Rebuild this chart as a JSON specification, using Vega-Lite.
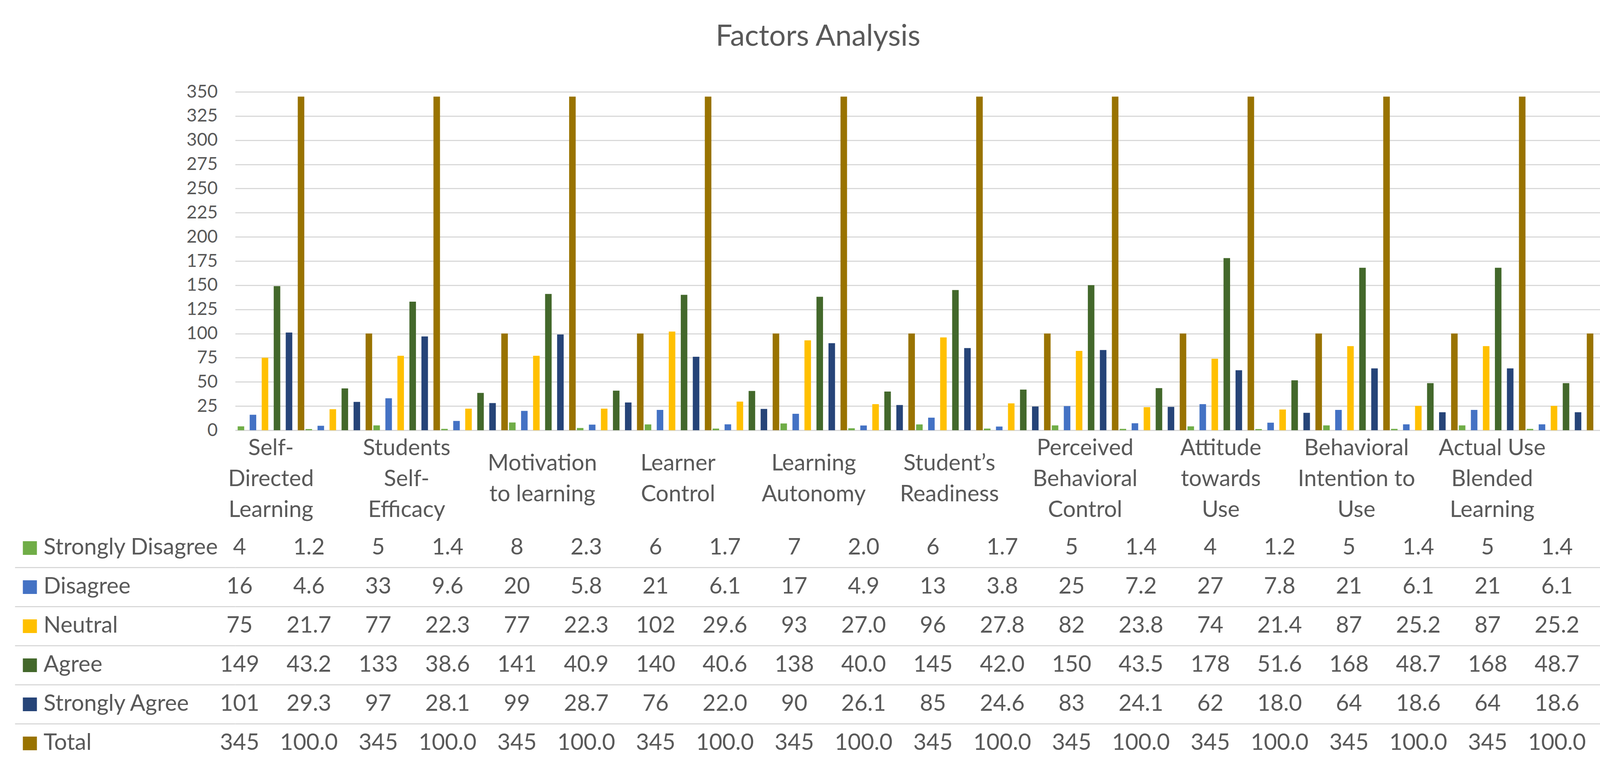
{
  "$schema": "https://vega.github.io/schema/vega-lite/v6.json",
  "background": "white",
  "padding": {"left": 36, "top": 57, "right": 20, "bottom": 10},
  "title": {"text": "Factors Analysis", "font": "Lato", "fontSize": 75, "fontWeight": "normal", "color": "#595959", "anchor": "middle", "offset": 79},
  "config": {"view": {"stroke": null}, "font": "Lato"},
  "spacing": 18,
  "datasets": {
    "t": [
      {"col": "Self-|Directed|Learning", "kind": "n", "series": "Strongly Disagree", "value": 4},
      {"col": "Self-|Directed|Learning", "kind": "n", "series": "Disagree", "value": 16},
      {"col": "Self-|Directed|Learning", "kind": "n", "series": "Neutral", "value": 75},
      {"col": "Self-|Directed|Learning", "kind": "n", "series": "Agree", "value": 149},
      {"col": "Self-|Directed|Learning", "kind": "n", "series": "Strongly Agree", "value": 101},
      {"col": "Self-|Directed|Learning", "kind": "n", "series": "Total", "value": 345},
      {"col": "Self-|Directed|Learning|%", "kind": "pct", "series": "Strongly Disagree", "value": 1.2},
      {"col": "Self-|Directed|Learning|%", "kind": "pct", "series": "Disagree", "value": 4.6},
      {"col": "Self-|Directed|Learning|%", "kind": "pct", "series": "Neutral", "value": 21.7},
      {"col": "Self-|Directed|Learning|%", "kind": "pct", "series": "Agree", "value": 43.2},
      {"col": "Self-|Directed|Learning|%", "kind": "pct", "series": "Strongly Agree", "value": 29.3},
      {"col": "Self-|Directed|Learning|%", "kind": "pct", "series": "Total", "value": 100.0},
      {"col": "Students|Self-|Efficacy", "kind": "n", "series": "Strongly Disagree", "value": 5},
      {"col": "Students|Self-|Efficacy", "kind": "n", "series": "Disagree", "value": 33},
      {"col": "Students|Self-|Efficacy", "kind": "n", "series": "Neutral", "value": 77},
      {"col": "Students|Self-|Efficacy", "kind": "n", "series": "Agree", "value": 133},
      {"col": "Students|Self-|Efficacy", "kind": "n", "series": "Strongly Agree", "value": 97},
      {"col": "Students|Self-|Efficacy", "kind": "n", "series": "Total", "value": 345},
      {"col": "Students|Self-|Efficacy|%", "kind": "pct", "series": "Strongly Disagree", "value": 1.4},
      {"col": "Students|Self-|Efficacy|%", "kind": "pct", "series": "Disagree", "value": 9.6},
      {"col": "Students|Self-|Efficacy|%", "kind": "pct", "series": "Neutral", "value": 22.3},
      {"col": "Students|Self-|Efficacy|%", "kind": "pct", "series": "Agree", "value": 38.6},
      {"col": "Students|Self-|Efficacy|%", "kind": "pct", "series": "Strongly Agree", "value": 28.1},
      {"col": "Students|Self-|Efficacy|%", "kind": "pct", "series": "Total", "value": 100.0},
      {"col": "Motivation|to learning", "kind": "n", "series": "Strongly Disagree", "value": 8},
      {"col": "Motivation|to learning", "kind": "n", "series": "Disagree", "value": 20},
      {"col": "Motivation|to learning", "kind": "n", "series": "Neutral", "value": 77},
      {"col": "Motivation|to learning", "kind": "n", "series": "Agree", "value": 141},
      {"col": "Motivation|to learning", "kind": "n", "series": "Strongly Agree", "value": 99},
      {"col": "Motivation|to learning", "kind": "n", "series": "Total", "value": 345},
      {"col": "Motivation|to learning|%", "kind": "pct", "series": "Strongly Disagree", "value": 2.3},
      {"col": "Motivation|to learning|%", "kind": "pct", "series": "Disagree", "value": 5.8},
      {"col": "Motivation|to learning|%", "kind": "pct", "series": "Neutral", "value": 22.3},
      {"col": "Motivation|to learning|%", "kind": "pct", "series": "Agree", "value": 40.9},
      {"col": "Motivation|to learning|%", "kind": "pct", "series": "Strongly Agree", "value": 28.7},
      {"col": "Motivation|to learning|%", "kind": "pct", "series": "Total", "value": 100.0},
      {"col": "Learner|Control", "kind": "n", "series": "Strongly Disagree", "value": 6},
      {"col": "Learner|Control", "kind": "n", "series": "Disagree", "value": 21},
      {"col": "Learner|Control", "kind": "n", "series": "Neutral", "value": 102},
      {"col": "Learner|Control", "kind": "n", "series": "Agree", "value": 140},
      {"col": "Learner|Control", "kind": "n", "series": "Strongly Agree", "value": 76},
      {"col": "Learner|Control", "kind": "n", "series": "Total", "value": 345},
      {"col": "Learner|Control|%", "kind": "pct", "series": "Strongly Disagree", "value": 1.7},
      {"col": "Learner|Control|%", "kind": "pct", "series": "Disagree", "value": 6.1},
      {"col": "Learner|Control|%", "kind": "pct", "series": "Neutral", "value": 29.6},
      {"col": "Learner|Control|%", "kind": "pct", "series": "Agree", "value": 40.6},
      {"col": "Learner|Control|%", "kind": "pct", "series": "Strongly Agree", "value": 22.0},
      {"col": "Learner|Control|%", "kind": "pct", "series": "Total", "value": 100.0},
      {"col": "Learning|Autonomy", "kind": "n", "series": "Strongly Disagree", "value": 7},
      {"col": "Learning|Autonomy", "kind": "n", "series": "Disagree", "value": 17},
      {"col": "Learning|Autonomy", "kind": "n", "series": "Neutral", "value": 93},
      {"col": "Learning|Autonomy", "kind": "n", "series": "Agree", "value": 138},
      {"col": "Learning|Autonomy", "kind": "n", "series": "Strongly Agree", "value": 90},
      {"col": "Learning|Autonomy", "kind": "n", "series": "Total", "value": 345},
      {"col": "Learning|Autonomy|%", "kind": "pct", "series": "Strongly Disagree", "value": 2.0},
      {"col": "Learning|Autonomy|%", "kind": "pct", "series": "Disagree", "value": 4.9},
      {"col": "Learning|Autonomy|%", "kind": "pct", "series": "Neutral", "value": 27.0},
      {"col": "Learning|Autonomy|%", "kind": "pct", "series": "Agree", "value": 40.0},
      {"col": "Learning|Autonomy|%", "kind": "pct", "series": "Strongly Agree", "value": 26.1},
      {"col": "Learning|Autonomy|%", "kind": "pct", "series": "Total", "value": 100.0},
      {"col": "Student’s|Readiness", "kind": "n", "series": "Strongly Disagree", "value": 6},
      {"col": "Student’s|Readiness", "kind": "n", "series": "Disagree", "value": 13},
      {"col": "Student’s|Readiness", "kind": "n", "series": "Neutral", "value": 96},
      {"col": "Student’s|Readiness", "kind": "n", "series": "Agree", "value": 145},
      {"col": "Student’s|Readiness", "kind": "n", "series": "Strongly Agree", "value": 85},
      {"col": "Student’s|Readiness", "kind": "n", "series": "Total", "value": 345},
      {"col": "Student’s|Readiness|%", "kind": "pct", "series": "Strongly Disagree", "value": 1.7},
      {"col": "Student’s|Readiness|%", "kind": "pct", "series": "Disagree", "value": 3.8},
      {"col": "Student’s|Readiness|%", "kind": "pct", "series": "Neutral", "value": 27.8},
      {"col": "Student’s|Readiness|%", "kind": "pct", "series": "Agree", "value": 42.0},
      {"col": "Student’s|Readiness|%", "kind": "pct", "series": "Strongly Agree", "value": 24.6},
      {"col": "Student’s|Readiness|%", "kind": "pct", "series": "Total", "value": 100.0},
      {"col": "Perceived|Behavioral|Control", "kind": "n", "series": "Strongly Disagree", "value": 5},
      {"col": "Perceived|Behavioral|Control", "kind": "n", "series": "Disagree", "value": 25},
      {"col": "Perceived|Behavioral|Control", "kind": "n", "series": "Neutral", "value": 82},
      {"col": "Perceived|Behavioral|Control", "kind": "n", "series": "Agree", "value": 150},
      {"col": "Perceived|Behavioral|Control", "kind": "n", "series": "Strongly Agree", "value": 83},
      {"col": "Perceived|Behavioral|Control", "kind": "n", "series": "Total", "value": 345},
      {"col": "Perceived|Behavioral|Control|%", "kind": "pct", "series": "Strongly Disagree", "value": 1.4},
      {"col": "Perceived|Behavioral|Control|%", "kind": "pct", "series": "Disagree", "value": 7.2},
      {"col": "Perceived|Behavioral|Control|%", "kind": "pct", "series": "Neutral", "value": 23.8},
      {"col": "Perceived|Behavioral|Control|%", "kind": "pct", "series": "Agree", "value": 43.5},
      {"col": "Perceived|Behavioral|Control|%", "kind": "pct", "series": "Strongly Agree", "value": 24.1},
      {"col": "Perceived|Behavioral|Control|%", "kind": "pct", "series": "Total", "value": 100.0},
      {"col": "Attitude|towards|Use", "kind": "n", "series": "Strongly Disagree", "value": 4},
      {"col": "Attitude|towards|Use", "kind": "n", "series": "Disagree", "value": 27},
      {"col": "Attitude|towards|Use", "kind": "n", "series": "Neutral", "value": 74},
      {"col": "Attitude|towards|Use", "kind": "n", "series": "Agree", "value": 178},
      {"col": "Attitude|towards|Use", "kind": "n", "series": "Strongly Agree", "value": 62},
      {"col": "Attitude|towards|Use", "kind": "n", "series": "Total", "value": 345},
      {"col": "Attitude|towards|Use|%", "kind": "pct", "series": "Strongly Disagree", "value": 1.2},
      {"col": "Attitude|towards|Use|%", "kind": "pct", "series": "Disagree", "value": 7.8},
      {"col": "Attitude|towards|Use|%", "kind": "pct", "series": "Neutral", "value": 21.4},
      {"col": "Attitude|towards|Use|%", "kind": "pct", "series": "Agree", "value": 51.6},
      {"col": "Attitude|towards|Use|%", "kind": "pct", "series": "Strongly Agree", "value": 18.0},
      {"col": "Attitude|towards|Use|%", "kind": "pct", "series": "Total", "value": 100.0},
      {"col": "Behavioral|Intention to|Use", "kind": "n", "series": "Strongly Disagree", "value": 5},
      {"col": "Behavioral|Intention to|Use", "kind": "n", "series": "Disagree", "value": 21},
      {"col": "Behavioral|Intention to|Use", "kind": "n", "series": "Neutral", "value": 87},
      {"col": "Behavioral|Intention to|Use", "kind": "n", "series": "Agree", "value": 168},
      {"col": "Behavioral|Intention to|Use", "kind": "n", "series": "Strongly Agree", "value": 64},
      {"col": "Behavioral|Intention to|Use", "kind": "n", "series": "Total", "value": 345},
      {"col": "Behavioral|Intention to|Use|%", "kind": "pct", "series": "Strongly Disagree", "value": 1.4},
      {"col": "Behavioral|Intention to|Use|%", "kind": "pct", "series": "Disagree", "value": 6.1},
      {"col": "Behavioral|Intention to|Use|%", "kind": "pct", "series": "Neutral", "value": 25.2},
      {"col": "Behavioral|Intention to|Use|%", "kind": "pct", "series": "Agree", "value": 48.7},
      {"col": "Behavioral|Intention to|Use|%", "kind": "pct", "series": "Strongly Agree", "value": 18.6},
      {"col": "Behavioral|Intention to|Use|%", "kind": "pct", "series": "Total", "value": 100.0},
      {"col": "Actual Use|Blended|Learning", "kind": "n", "series": "Strongly Disagree", "value": 5},
      {"col": "Actual Use|Blended|Learning", "kind": "n", "series": "Disagree", "value": 21},
      {"col": "Actual Use|Blended|Learning", "kind": "n", "series": "Neutral", "value": 87},
      {"col": "Actual Use|Blended|Learning", "kind": "n", "series": "Agree", "value": 168},
      {"col": "Actual Use|Blended|Learning", "kind": "n", "series": "Strongly Agree", "value": 64},
      {"col": "Actual Use|Blended|Learning", "kind": "n", "series": "Total", "value": 345},
      {"col": "Actual Use|Blended|Learning|%", "kind": "pct", "series": "Strongly Disagree", "value": 1.4},
      {"col": "Actual Use|Blended|Learning|%", "kind": "pct", "series": "Disagree", "value": 6.1},
      {"col": "Actual Use|Blended|Learning|%", "kind": "pct", "series": "Neutral", "value": 25.2},
      {"col": "Actual Use|Blended|Learning|%", "kind": "pct", "series": "Agree", "value": 48.7},
      {"col": "Actual Use|Blended|Learning|%", "kind": "pct", "series": "Strongly Agree", "value": 18.6},
      {"col": "Actual Use|Blended|Learning|%", "kind": "pct", "series": "Total", "value": 100.0}
    ]
  },
  "vconcat": [
    {
      "width": 3550,
      "height": 866,
      "data": {"name": "t"},
      "mark": {"type": "bar"},
      "encoding": {
        "x": {
          "field": "col", "type": "nominal",
          "scale": {
            "domain": ["Self-|Directed|Learning", "Self-|Directed|Learning|%", "Students|Self-|Efficacy", "Students|Self-|Efficacy|%", "Motivation|to learning", "Motivation|to learning|%", "Learner|Control", "Learner|Control|%", "Learning|Autonomy", "Learning|Autonomy|%", "Student’s|Readiness", "Student’s|Readiness|%", "Perceived|Behavioral|Control", "Perceived|Behavioral|Control|%", "Attitude|towards|Use", "Attitude|towards|Use|%", "Behavioral|Intention to|Use", "Behavioral|Intention to|Use|%", "Actual Use|Blended|Learning", "Actual Use|Blended|Learning|%"],
            "paddingInner": 0, "paddingOuter": 0.22, "align": 0.064
          },
          "axis": {
            "title": null, "domain": false, "ticks": false, "tickSize": 0, "grid": false,
            "labelAngle": 0, "labelAlign": "center",
            "labelBaseline": {"condition": {"test": "length(split(datum.value, '|')) >= 3", "value": "middle"}, "value": "line-top"},
            "labelPadding": 46, "labelLineHeight": 79, "labelFontSize": 58, "labelColor": "#595959",
            "labelLimit": 600, "labelOverlap": false, "labelFlush": false,
            "labelExpr": "indexof(datum.value, '|%') >= 0 ? '' : split(datum.value, '|')"
          }
        },
        "xOffset": {
          "field": "series", "type": "nominal",
          "scale": {"domain": ["Strongly Disagree", "Disagree", "Neutral", "Agree", "Strongly Agree", "Total"], "paddingInner": 0.455, "paddingOuter": 0.05}
        },
        "y": {
          "field": "value", "type": "quantitative",
          "scale": {"domain": [0, 350], "nice": false},
          "axis": {
            "title": null, "domain": false, "ticks": false, "values": [0, 25, 50, 75, 100, 125, 150, 175, 200, 225, 250, 275, 300, 325, 350],
            "grid": true, "gridColor": "#D9D9D9", "gridWidth": 3,
            "labelFontSize": 46, "labelColor": "#595959", "labelPadding": 45
          }
        },
        "color": {
          "field": "series", "type": "nominal",
          "scale": {"domain": ["Strongly Disagree", "Disagree", "Neutral", "Agree", "Strongly Agree", "Total"], "range": ["#70AD47", "#4472C4", "#FFC000", "#43682B", "#264478", "#997300"]},
          "legend": null
        }
      }
    },
    {
      "width": 3550,
      "height": 600,
      "data": {"name": "t"},
      "resolve": {"axis": {"y": "independent"}},
      "layer": [
        {
          "transform": [{"filter": "datum.kind === 'n'"}],
          "mark": {"type": "text", "fontSize": 58, "color": "#595959", "align": "center", "baseline": "middle"},
          "encoding": {
            "x": {
              "field": "col", "type": "nominal",
              "scale": {
                "domain": ["Self-|Directed|Learning", "Self-|Directed|Learning|%", "Students|Self-|Efficacy", "Students|Self-|Efficacy|%", "Motivation|to learning", "Motivation|to learning|%", "Learner|Control", "Learner|Control|%", "Learning|Autonomy", "Learning|Autonomy|%", "Student’s|Readiness", "Student’s|Readiness|%", "Perceived|Behavioral|Control", "Perceived|Behavioral|Control|%", "Attitude|towards|Use", "Attitude|towards|Use|%", "Behavioral|Intention to|Use", "Behavioral|Intention to|Use|%", "Actual Use|Blended|Learning", "Actual Use|Blended|Learning|%"],
                "paddingInner": 0, "paddingOuter": 0.22, "align": 0.064
              },
              "axis": null
            },
            "y": {
              "field": "series", "type": "nominal",
              "scale": {"type": "band", "domain": ["Strongly Disagree", "Disagree", "Neutral", "Agree", "Strongly Agree", "Total"], "paddingInner": 0, "paddingOuter": 0},
              "axis": {
                "orient": "left", "title": null, "domain": false, "grid": false,
                "ticks": true, "tickSize": 36, "tickWidth": 35, "tickCap": "butt",
                "tickColor": {"condition": [
                  {"test": "datum.value === 'Strongly Disagree'", "value": "#70AD47"},
                  {"test": "datum.value === 'Disagree'", "value": "#4472C4"},
                  {"test": "datum.value === 'Neutral'", "value": "#FFC000"},
                  {"test": "datum.value === 'Agree'", "value": "#43682B"},
                  {"test": "datum.value === 'Strongly Agree'", "value": "#264478"}
                ], "value": "#997300"},
                "offset": 508,
                "labelAlign": "left", "labelBaseline": "middle", "labelPadding": -53,
                "labelFontSize": 58, "labelColor": "#595959", "labelLimit": 700
              }
            },
            "text": {"field": "value", "type": "quantitative", "format": "d"}
          }
        },
        {
          "transform": [{"filter": "datum.kind === 'pct'"}],
          "mark": {"type": "text", "fontSize": 58, "color": "#595959", "align": "center", "baseline": "middle"},
          "encoding": {
            "x": {"field": "col", "type": "nominal", "axis": null},
            "y": {
              "field": "series", "type": "nominal",
              "axis": {
                "orient": "left", "title": null, "domain": false, "labels": false,
                "bandPosition": 1,
                "ticks": true, "tickSize": 564, "tickWidth": 3, "tickColor": "#D9D9D9",
                "tickOpacity": {"condition": {"test": "datum.value === 'Total'", "value": 0}, "value": 1},
                "grid": true, "gridColor": "#D9D9D9", "gridWidth": 3,
                "gridOpacity": {"condition": {"test": "datum.value === 'Total'", "value": 0}, "value": 1},
                "offset": 0
              }
            },
            "text": {"field": "value", "type": "quantitative", "format": ".1f"}
          }
        }
      ]
    }
  ]
}
